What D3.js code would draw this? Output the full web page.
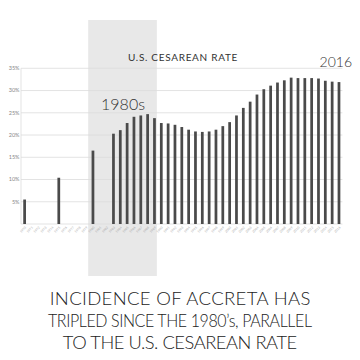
<!DOCTYPE html>
<html><head><meta charset="utf-8">
<script src="https://cdn.jsdelivr.net/npm/d3@7"></script>
<style>
html,body{margin:0;padding:0;background:#fff;}
svg{display:block;}
text{font-family:Lato,"Open Sans",sans-serif;}
</style></head>
<body>
<svg id="chart" width="360" height="360"></svg>
<script>
const axisYears = d3.range(1970, 2017);
const years = [1970,1975,1980,1983,1984,1985,1986,1987,1988,1989,1990,1991,1992,1993,1994,1995,1996,1997,1998,1999,2000,2001,2002,2003,2004,2005,2006,2007,2008,2009,2010,2011,2012,2013,2014,2015,2016];
const rates = [5.5,10.4,16.5,20.3,21.1,22.7,24.1,24.4,24.7,23.8,22.7,22.6,22.3,21.8,21.2,20.8,20.7,20.8,21.2,22.0,22.9,24.4,26.1,27.5,29.1,30.3,31.1,31.8,32.3,32.9,32.8,32.8,32.8,32.7,32.2,32.0,31.9];
const yTicks = [5,10,15,20,25,30,35];
const bandYears = [1980, 1989];
const chartTitle = "U.S. CESAREAN RATE";
const bandLabel = "1980s";
const endLabel = "2016";
const caption = ["INCIDENCE OF ACCRETA HAS","TRIPLED SINCE THE 1980\u2019s, PARALLEL","TO THE U.S. CESAREAN RATE"];

const svg = d3.select("#chart");
const x = d3.scaleBand().domain(axisYears).range([21.2, 342.4]).paddingInner(0.6).paddingOuter(0.3);
const y = d3.scaleLinear().domain([0, 35]).range([224, 68.3]);
const step = x.step();

// shaded band
const bx0 = x(bandYears[0]) + x.bandwidth()/2 - 0.7*step;
const bx1 = x(bandYears[1]) + x.bandwidth()/2 + 0.35*step;
svg.append("rect").attr("x", bx0).attr("y", 20).attr("width", bx1 - bx0).attr("height", 256)
  .attr("fill", "#e8e8e8");

// gridlines
svg.append("g").selectAll("line").data(yTicks).join("line")
  .attr("x1", 21).attr("x2", 342.4)
  .attr("y1", d => y(d)).attr("y2", d => y(d))
  .attr("stroke", "#dcdcdc").attr("stroke-width", 0.8);

// y axis labels
svg.append("g").selectAll("text").data(yTicks).join("text")
  .attr("x", 19.5).attr("y", d => y(d)).attr("dy", "0.35em")
  .attr("text-anchor", "end").attr("font-size", 5.5).attr("fill", "#888")
  .text(d => d + "%");

// y axis line & baseline
svg.append("line").attr("x1", 21).attr("x2", 21).attr("y1", y(35)).attr("y2", y(0))
  .attr("stroke", "#dcdcdc").attr("stroke-width", 0.8);
svg.append("line").attr("x1", 21).attr("x2", 342.4).attr("y1", y(0)).attr("y2", y(0))
  .attr("stroke", "#dcdcdc").attr("stroke-width", 0.8);

// bars
svg.append("g").selectAll("rect").data(years.map((yr, i) => ({yr, v: rates[i]}))).join("rect")
  .attr("x", d => x(d.yr)).attr("width", x.bandwidth())
  .attr("y", d => y(d.v)).attr("height", d => y(0) - y(d.v))
  .attr("fill", "#4a4a4a");

// x tick labels
svg.append("g").selectAll("text").data(axisYears).join("text")
  .attr("transform", d => `translate(${x(d) + x.bandwidth()/2 + 1},${y(0) + 3}) rotate(-45)`)
  .attr("text-anchor", "end").attr("dy", "0.35em")
  .attr("font-size", 3.2).attr("fill", "#aaa")
  .text(d => d);

// title
svg.append("text").attr("x", 183).attr("y", 60.7).attr("text-anchor", "middle")
  .attr("font-size", 10).attr("fill", "#333").attr("letter-spacing", 0.7)
  .text(chartTitle);

svg.append("text").attr("x", (bx0 + bx1)/2 + 0.5).attr("y", 110).attr("text-anchor", "middle")
  .attr("font-size", 16).attr("font-weight", 300).attr("fill", "#333")
  .text(bandLabel);

svg.append("text").attr("x", 352).attr("y", 67.3).attr("text-anchor", "end")
  .attr("font-size", 14).attr("font-weight", 300).attr("fill", "#333")
  .text(endLabel);

// caption: mild letter-spacing plus horizontal scaling to match reference widths
const capLens = [261, 264, 234];
svg.append("g").selectAll("text").data(caption).join("text")
  .attr("x", 0).attr("y", 0).attr("text-anchor", "middle")
  .attr("font-size", 18.5).attr("font-weight", 300).attr("fill", "#222")
  .text(d => d)
  .each(function(d, i) {
    const sel = d3.select(this);
    const w0 = this.getComputedTextLength();
    let ls = (capLens[i] - w0) / d.length;
    ls = Math.max(-0.45, Math.min(1.2, ls));
    sel.attr("letter-spacing", ls).attr("x", ls / 2);
    const w1 = this.getComputedTextLength();
    const s = capLens[i] / w1;
    sel.attr("transform", `translate(180,${305 + i * 22}) scale(${s},1)`);
  });
</script>
</body></html>
